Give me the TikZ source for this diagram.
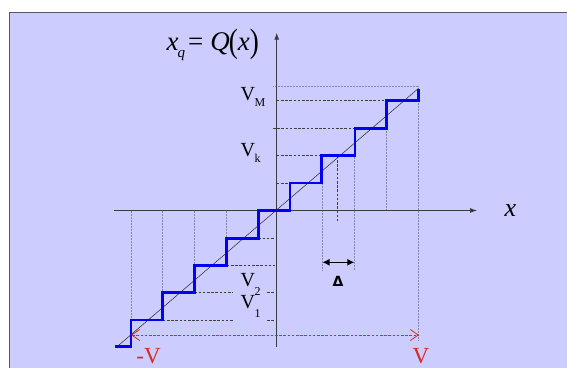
\documentclass[tikz,border=0pt]{standalone}
\usepackage{fontspec}
\usepackage{graphicx}
\setmainfont{Liberation Serif}
\newfontfamily\deltafont{DejaVu Sans}
\usetikzlibrary{arrows.meta}
\definecolor{bgc}{HTML}{CCCCFF}
\definecolor{framec}{HTML}{55556A}
\definecolor{axisc}{HTML}{3A3A48}
\definecolor{stairc}{HTML}{0000EE}
\definecolor{guidec}{HTML}{8585A8}
\definecolor{redc}{HTML}{D82828}
\begin{document}
\begin{tikzpicture}[x=1pt,y=-1pt,
  axisline/.style={draw=axisc, line width=0.9pt, -{Latex[length=7pt,width=5pt]}},
  guideline/.style={draw=guidec, line width=0.5pt, dash pattern=on 1pt off 0.5pt},
  dashline/.style={draw=black!75, line width=0.6pt, dash pattern=on 2.6pt off 1.6pt},
  stairline/.style={draw=stairc, line width=2.6pt, line join=miter},
  diagline/.style={draw=black!85, line width=0.5pt},
  vlab/.style={anchor=base west, inner sep=0pt, font=\fontsize{20}{20}\selectfont},
  redlab/.style={anchor=base, inner sep=0pt, text depth=0pt, text=redc, font=\fontsize{23}{23}\selectfont},
  rangearrow/.style={draw=redc, line width=0.7pt, dash pattern=on 2.6pt off 1.6pt,
     {Straight Barb[length=8pt,width=11pt,line width=0.8pt]}-{Straight Barb[length=8pt,width=11pt,line width=0.8pt]}},
  deltaarrow/.style={draw=black, line width=1.1pt, {Latex[length=7pt,width=7pt]}-{Latex[length=7pt,width=7pt]}}
]
\useasboundingbox (0,0) rectangle (567,367);
\clip (0,0) rectangle (567,367);
\fill[white] (0,0) rectangle (567,367);
\fill[bgc] (9,12) rectangle (570,370);
\draw[framec, line width=1pt] (9,370) -- (9,12) -- (570,12);

% guide lines (gray, fine dotted)
\draw[guideline] (273,86) -- (418.3,86);
\draw[guideline] (418.3,86) -- (418.3,340);
\draw[guideline] (131,210.5) -- (131,320);
\draw[guideline] (162.7,210.5) -- (162.7,292.7);
\draw[guideline] (194.3,210.5) -- (194.3,265.3);
\draw[guideline] (226.7,210.5) -- (226.7,238.3);
\draw[guideline] (322,155.7) -- (322,270.7);
\draw[guideline] (354.6,128.3) -- (354.6,270.7);
\draw[guideline] (386.7,100.7) -- (386.7,210.5);

% dashed level lines
\draw[dashline] (276.7,100.7) -- (386.7,100.7);
\draw[dashline] (273,128.3) -- (355,128.3);
\draw[dashline] (276.7,155.7) -- (321.7,155.7);
\draw[dashline] (276.7,183) -- (290,183);
\draw[dashline] (258.3,238.3) -- (275,238.3);
\draw[dashline] (226.7,265.3) -- (275,265.3);
\draw[dashline] (194.3,292.7) -- (233,292.7);
\draw[dashline] (267,292.7) -- (275,292.7);
\draw[dashline] (162.7,320) -- (233,320);
\draw[dashline] (267,320) -- (275,320);
\draw[dashline] (337.3,155.7) -- (337.3,221.7);

% axes
\coordinate (xs) at (114,210.5);
\coordinate (xe) at (477,210.5);
\coordinate (ys) at (276.7,347);
\coordinate (ye) at (276.7,32.7);
\draw[axisline] (xs) -- (xe);
\draw[axisline] (ys) -- (ye);

% diagonal
\draw[diagline] (117,346.7) -- (418.3,88.5);

% staircase
\draw[stairline] (115,346.7) -- (131,346.7) -- (131,320) -- (162.7,320) -- (162.7,292.7)
  -- (194.3,292.7) -- (194.3,265.3) -- (226.7,265.3) -- (226.7,238.3) -- (258.3,238.3)
  -- (258.3,210.5) -- (290,210.5) -- (290,183) -- (321.7,183) -- (321.7,155.7)
  -- (355,155.7) -- (355,128.3) -- (386.7,128.3) -- (386.7,100.7) -- (418.3,100.7)
  -- (418.3,89);

% delta arrow
\coordinate (da) at (322.5,262.3);
\coordinate (db) at (354.3,262.3);
\draw[deltaarrow] (da) -- (db);
\node[inner sep=0pt, font=\deltafont\bfseries\fontsize{14}{14}\selectfont] (dl) at (338,281.5) {Δ};

% red range arrow
\coordinate (ra) at (131,335);
\coordinate (rb) at (419,335);
\draw[rangearrow] (ra) -- (rb);

% labels
\node[anchor=base west, inner sep=0pt, font=\fontsize{27}{27}\selectfont] (ql) at (166.5,50.7)
  {\textit{x}\kern-1pt\raisebox{-7pt}{\fontsize{15}{15}\selectfont\textit{q}}\kern3pt=\kern7pt\textit{Q}\kern-1pt\raisebox{-1.5pt}{\scalebox{1}[1.25]{(}}\textit{x}\raisebox{-1.5pt}{\scalebox{1}[1.25]{)}}};
\node[anchor=base, inner sep=0pt, font=\fontsize{26}{26}\selectfont] (xl) at (510.5,216.7) {\textit{x}};
\node[vlab] (vm) at (240.5,100.7) {V\kern-0.5pt\raisebox{-6pt}{\fontsize{12}{12}\selectfont M}};
\node[vlab] (vk) at (240.5,156.7) {V\kern-0.5pt\raisebox{-6pt}{\fontsize{12}{12}\selectfont k}};
\node[vlab] (v2) at (240.5,286.7) {V\kern-0.5pt\raisebox{-9pt}{\fontsize{12}{12}\selectfont 2}};
\node[vlab] (v1) at (240.5,308.3) {V\kern-0.5pt\raisebox{-9pt}{\fontsize{12}{12}\selectfont 1}};
\node[redlab] (mv) at (148.5,363) {-V};
\node[redlab] (pv) at (421,363) {V};
\end{tikzpicture}
\end{document}
